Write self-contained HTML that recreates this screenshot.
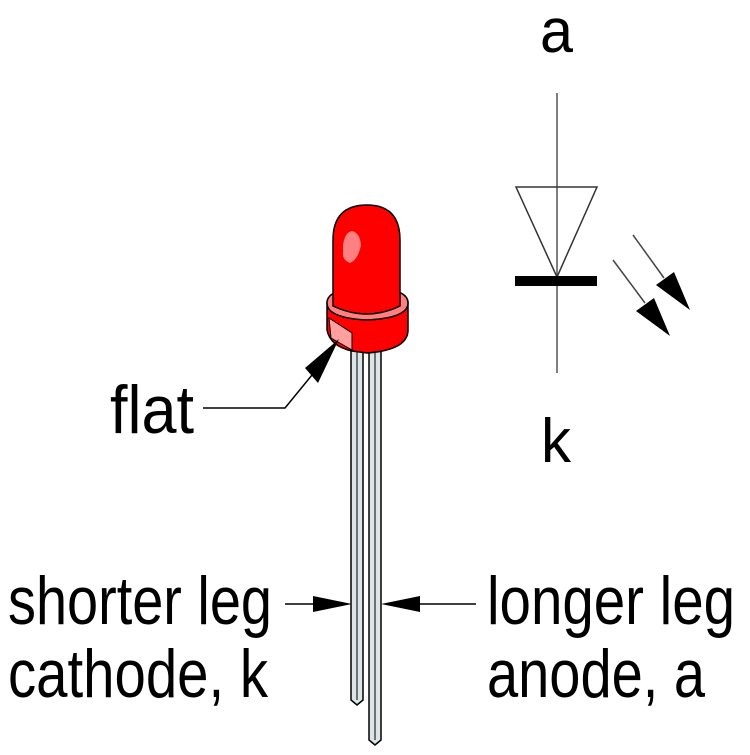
<!DOCTYPE html>
<html><head><meta charset="utf-8"><style>html,body{margin:0;padding:0;background:#fff}</style></head>
<body>
<svg width="750" height="750" viewBox="0 0 750 750" xmlns="http://www.w3.org/2000/svg" font-family="Liberation Sans, sans-serif">
<rect width="750" height="750" fill="#fff"/>
<!-- legs -->
<path d="M351,345 V700 L357,705 L363,700 V345 Z" fill="#dde4e8" stroke="#000" stroke-width="1.5"/>
<line x1="357" y1="345" x2="357" y2="700" stroke="#000" stroke-width="1"/>
<path d="M369,345 V740 L375,745 L381,740 V345 Z" fill="#dde4e8" stroke="#000" stroke-width="1.5"/>
<line x1="375" y1="345" x2="375" y2="740" stroke="#000" stroke-width="1"/>
<!-- flange -->
<path d="M327,303 Q327,288 367,288 Q408,288 408,303 V330 Q408,350 367,353 L352,351 Q330,346 327,330 Z" fill="#f00" stroke="#000" stroke-width="1.5"/>
<path d="M327,303 Q327,288 367,288 Q408,288 408,303 Q408,318 367,320 Q327,318 327,303 Z" fill="#ff8080" stroke="#000" stroke-width="1.5"/>
<path d="M329,318 L352,333 V350 L331,338 Z" fill="#ffa0a0" stroke="#000" stroke-width="1"/>
<!-- dome -->
<path d="M333,306 V240 Q333,205 367,205 Q400,205 400,240 V306 Q367,322 333,306 Z" fill="#f00" stroke="#000" stroke-width="1.5"/>
<path d="M343,245 Q345,232 352,231 Q360,233 361,245 Q358,260 350,263 Q342,260 343,252 Z" fill="#ff8080"/>
<!-- flat leader -->
<polyline points="203,408 285,408 312,375" fill="none" stroke="#000" stroke-width="1.5"/>
<polygon points="339,339 305,368 318,383" fill="#000"/>
<!-- leg arrows -->
<line x1="285" y1="604" x2="315" y2="604" stroke="#000" stroke-width="1.5"/>
<polygon points="352,604 313,596 313,612" fill="#000"/>
<line x1="418" y1="604" x2="476" y2="604" stroke="#000" stroke-width="1.5"/>
<polygon points="381,604 420,596 420,612" fill="#000"/>
<!-- diode symbol -->
<line x1="557" y1="93" x2="557" y2="373" stroke="#555" stroke-width="1.5"/>
<polygon points="516,187 597,187 557,277" fill="none" stroke="#333" stroke-width="1.5"/>
<rect x="515" y="276" width="82" height="10" fill="#000"/>
<line x1="633" y1="235" x2="664" y2="278" stroke="#444" stroke-width="1.5"/>
<polygon points="690,310 656,285 674,272" fill="#000"/>
<line x1="613" y1="260" x2="645" y2="303" stroke="#444" stroke-width="1.5"/>
<polygon points="670,336 636,311 654,298" fill="#000"/>
<!-- text -->
<text x="540" y="52" font-size="62" textLength="33" lengthAdjust="spacingAndGlyphs">a</text>
<text x="541" y="462" font-size="62" textLength="30" lengthAdjust="spacingAndGlyphs">k</text>
<text x="110" y="433" font-size="68" textLength="84" lengthAdjust="spacingAndGlyphs">flat</text>
<text x="8" y="624" font-size="68" textLength="264" lengthAdjust="spacingAndGlyphs">shorter leg</text>
<text x="8" y="697" font-size="68" textLength="260" lengthAdjust="spacingAndGlyphs">cathode, k</text>
<text x="487" y="624" font-size="68" textLength="248" lengthAdjust="spacingAndGlyphs">longer leg</text>
<text x="487" y="697" font-size="68" textLength="218" lengthAdjust="spacingAndGlyphs">anode, a</text>
</svg>
</body></html>
